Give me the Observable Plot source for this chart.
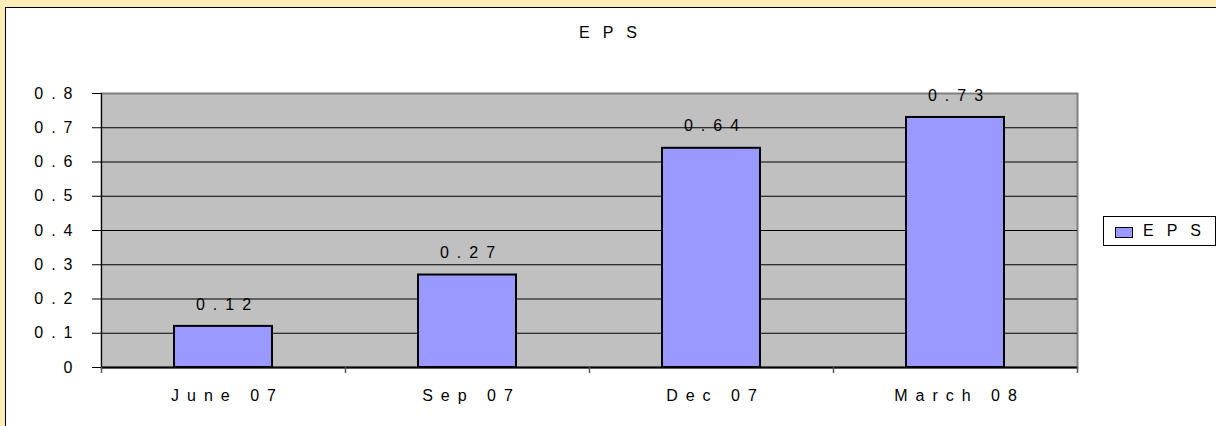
<!DOCTYPE html>
<html>
<head>
<meta charset="utf-8">
<script src="https://cdn.jsdelivr.net/npm/d3@7"></script>
<script src="https://cdn.jsdelivr.net/npm/@observablehq/plot@0.6"></script>
<style>
  html, body { margin: 0; padding: 0; background: #FFEDB9; }
  #wrap { position: relative; width: 1216px; height: 426px; overflow: hidden;
          font-family: "Liberation Sans", Arial, sans-serif; color: #000; }
  #panel { position: absolute; left: 5px; top: 7px; width: 1300px; height: 500px;
           background: #fff; border: 1px solid #000; }
  #chart { position: absolute; left: 0; top: 0; }
  #title { position: absolute; left: 0; top: 25px; width: 1216px; text-align: center;
           font-size: 16px; line-height: 16px; letter-spacing: 13px; padding-left: 13px; box-sizing: border-box; }
  #legend { position: absolute; left: 1103px; top: 216px; width: 113px; height: 30px;
            background: #fff; border: 1px solid #000; box-sizing: border-box; }
  #legend .sw { position: absolute; left: 11px; top: 10px; width: 18px; height: 11px;
                background: #9999FF; border: 1.5px solid #000; box-sizing: border-box; }
  #legend .lab { position: absolute; left: 39px; top: 6px; font-size: 16px; line-height: 16px;
                 letter-spacing: 13px; white-space: nowrap; }
</style>
</head>
<body>
<div id="wrap">
  <div id="panel"></div>
  <div id="chart"></div>
  <div id="title"></div>
  <div id="legend"><div class="sw"></div><div class="lab"></div></div>
</div>
<script>
// ---- data ----
const categories = ["June 07", "Sep 07", "Dec 07", "March 08"];
const epsValues = [0.12, 0.27, 0.64, 0.73];
const valueLabels = ["0.12", "0.27", "0.64", "0.73"];
const yTicks = [0, 0.1, 0.2, 0.3, 0.4, 0.5, 0.6, 0.7, 0.8];
const yTickLabels = ["0", "0.1", "0.2", "0.3", "0.4", "0.5", "0.6", "0.7", "0.8"];
const seriesName = "EPS";
const chartTitle = "EPS";

const data = categories.map((c, i) => ({quarter: c, eps: epsValues[i], label: valueLabels[i]}));

// ---- layout ----
const W = 1216, H = 426;
const ML = 101, MR = 139, MT = 93, MB = 59;
const LS = 8; // letter spacing in px
const step = (W - ML - MR) / categories.length;

const chart = Plot.plot({
  width: W,
  height: H,
  marginLeft: ML,
  marginRight: MR,
  marginTop: MT,
  marginBottom: MB,
  style: {
    background: "transparent",
    fontFamily: "'Liberation Sans', Arial, sans-serif",
    fontSize: "16px",
    color: "#000",
    letterSpacing: LS + "px",
    overflow: "visible"
  },
  x: {domain: categories, paddingInner: 0.6, paddingOuter: 0.3, label: null},
  y: {domain: [0, 0.8], label: null},
  marks: [
    Plot.frame({fill: "#C0C0C0", stroke: "#808080", strokeWidth: 2}),
    Plot.ruleY(yTicks.slice(1, -1), {stroke: "#000", strokeWidth: 1}),
    Plot.barY(data, {x: "quarter", y: "eps", fill: "#9999FF", stroke: "#000", strokeWidth: 2}),
    Plot.text(data, {x: "quarter", y: "eps", text: "label", dy: -22, dx: LS / 2, fill: "#000"}),
    Plot.ruleY([0], {stroke: "#000", strokeWidth: 2}),
    Plot.ruleX([categories[0]], {dx: -step / 2, stroke: "#000", strokeWidth: 1}),
    Plot.ruleX(categories, {dx: -step / 2, y1: 0, y2: 0, insetBottom: -6, stroke: "#555", strokeWidth: 1.5}),
    Plot.ruleX([categories[categories.length - 1]], {dx: step / 2, y1: 0, y2: 0, insetBottom: -6, stroke: "#555", strokeWidth: 1.5}),
    Plot.axisY({ticks: yTicks, tickFormat: (d) => yTickLabels[yTicks.indexOf(d)], tickSize: 9, tickPadding: 12, stroke: "#000", fill: "#000"}),
    Plot.axisX({tickSize: 0, tickPadding: 22, dx: LS / 2, fill: "#000"})
  ]
});
document.getElementById("chart").appendChild(chart);
document.getElementById("title").textContent = chartTitle;
document.querySelector("#legend .lab").textContent = seriesName;
</script>
</body>
</html>
